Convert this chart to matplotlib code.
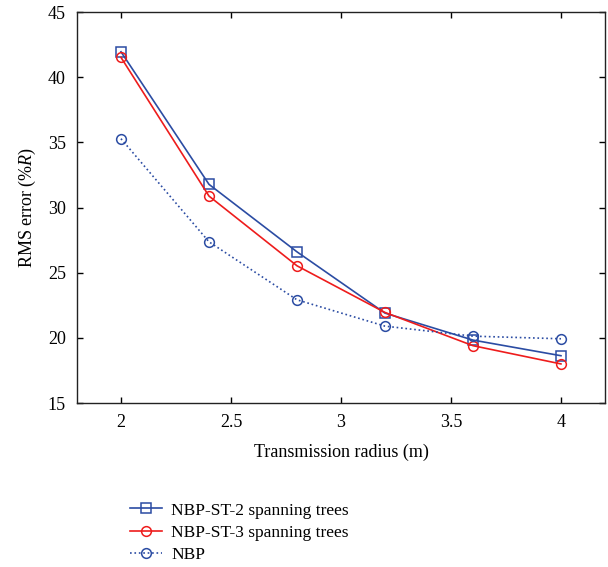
import matplotlib
matplotlib.use("Agg")
import matplotlib.pyplot as plt
from matplotlib.ticker import MultipleLocator

plt.rcParams['font.family'] = ['Liberation Serif', 'DejaVu Serif']
plt.rcParams['mathtext.fontset'] = 'custom'
plt.rcParams['mathtext.it'] = 'Liberation Serif:italic'
plt.rcParams['mathtext.rm'] = 'Liberation Serif'

radius = [2.0, 2.4, 2.8, 3.2, 3.6, 4.0]
st2 = [41.95, 31.78, 26.6, 21.9, 19.83, 18.63]
st3 = [41.52, 30.88, 25.53, 21.95, 19.4, 18.0]
nbp = [35.28, 27.37, 22.92, 20.9, 20.13, 19.93]
labels = ['NBP-ST-2 spanning trees', 'NBP-ST-3 spanning trees', 'NBP']
xticks = [2, 2.5, 3, 3.5, 4]
xticklabels = ['2', '2.5', '3', '3.5', '4']

blue = '#2b4ca3'
red = '#ee1c1c'

fig = plt.figure(figsize=(6.08, 5.67), dpi=100)
ax = fig.add_axes([0.1266, 0.2892, 0.995 - 0.1266, 0.9788 - 0.2892])

ax.plot(radius, st2, '-', color=blue, lw=1.2, marker='s', ms=7, mfc='none', mec=blue, mew=1.1, label=labels[0])
ax.plot(radius, st3, '-', color=red, lw=1.2, marker='o', ms=7, mfc='none', mec=red, mew=1.1, label=labels[1])
ax.plot(radius, nbp, ':', color=blue, lw=1.2, marker='o', ms=7, mfc='none', mec=blue, mew=1.1, label=labels[2])

ax.set_xlim(1.8, 4.2)
ax.set_ylim(15, 45)
ax.yaxis.set_major_locator(MultipleLocator(5))
ax.set_xticks(xticks)
ax.set_xticklabels(xticklabels)
ax.tick_params(direction='in', top=True, right=True, labelsize=13, length=4, width=1, pad=8)
for s in ax.spines.values():
    s.set_linewidth(1.0)
    s.set_color('#222222')

ax.set_xlabel('Transmission radius (m)', fontsize=13, labelpad=9)
ax.set_ylabel('RMS error (%$\\mathit{R}$)', fontsize=13, labelpad=7)

fig.legend(loc='upper left', bbox_to_anchor=(0.213, 0.114), frameon=False,
           fontsize=12.5, handlelength=1.9, handletextpad=0.5, labelspacing=0.35,
           borderaxespad=0, borderpad=0)

fig.savefig('out.png', dpi=100)
